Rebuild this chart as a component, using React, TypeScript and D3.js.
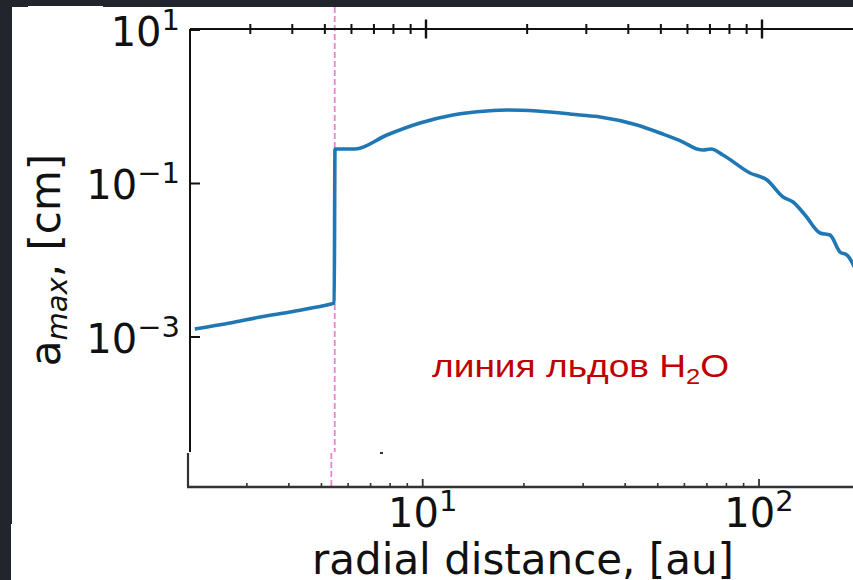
import React from "react";
import * as d3 from "d3";

// Radial distance (au) and maximum grain size (cm)
const radius = [2.05, 2.61, 3.21, 3.94, 4.74, 5.22, 5.33, 5.36, 6.15, 7.65, 9.6, 12.03, 15.19, 17.42, 21.4, 28.73, 32.96, 42.46, 49.7, 58.2, 64.06, 66.75, 70.5, 76.54, 92.1, 103.5, 115.5, 123.7, 134.3, 148.8, 159.4, 170.7, 179.1, 193.1];
const amax = [1.27e-3, 1.52e-3, 1.82e-3, 2.12e-3, 2.46e-3, 2.69e-3, 2.77e-3, 0.2815, 0.2815, 0.4285, 0.6142, 0.7807, 0.88, 0.907, 0.88, 0.7807, 0.735, 0.578, 0.455, 0.347, 0.2815, 0.273, 0.2815, 0.235, 0.137, 0.111, 0.0667, 0.0574, 0.0389, 0.02265, 0.02133, 0.0128, 0.0117, 0.00643];

const xMajor = [10, 100];
const xMajorLabels = ["1", "2"];
const xMinor = [3, 4, 5, 6, 7, 8, 9, 20, 30, 40, 50, 60, 70, 80, 90];
const yMajor = [10, 0.1, 0.001];
const yMajorLabels = ["1", "−1", "−3"];
const iceLine = 5.35;

const W = 853;
const H = 580;

export default function App() {
  const x = d3.scaleLog().domain([10, 100]).range([426, 762]);
  const xb = d3.scaleLog().domain([10, 100]).range([422.7, 759]);
  const y = d3.scaleLog().domain([1e-3, 10]).range([337, 30]);
  const pts = radius.map((r, i) => [r, amax[i]] as [number, number]);
  const line = d3
    .line<[number, number]>()
    .x((d) => x(d[0]))
    .y((d) => y(d[1]))
    .curve(d3.curveMonotoneX);

  const axTop = 29;
  const spineX = 190;
  const spineBottom = 452;
  const axBot = 487;
  const font = "DejaVu Sans, sans-serif";

  return (
    <svg
      width={W}
      height={H}
      style={{ position: "absolute", left: 0, top: 0 }}
      xmlns="http://www.w3.org/2000/svg"
    >
      <rect x={0} y={0} width={W} height={H} fill="#ffffff" />
      {/* dark slide background edges */}
      <rect x={0} y={0} width={W} height={7} fill="#23252d" />
      <rect x={28} y={6} width={75} height={1} fill="#ffffff" />
      <rect x={0} y={0} width={12} height={524} fill="#23252d" />
      <rect x={0} y={524} width={11} height={H - 524} fill="#23252d" />

      <defs>
        <clipPath id="plotclip">
          <rect x={spineX} y={axTop} width={W - spineX} height={spineBottom - axTop} />
        </clipPath>
      </defs>

      {/* ice line */}
      <line x1={x(iceLine)} x2={x(iceLine)} y1={7} y2={spineBottom} stroke="#e985cf" strokeWidth={1.8} strokeDasharray="6,3" />
      <line x1={xb(iceLine)} x2={xb(iceLine)} y1={spineBottom + 1} y2={axBot} stroke="#e985cf" strokeWidth={1.8} strokeDasharray="6,3" />

      {/* data */}
      <path d={line(pts) || ""} fill="none" stroke="#1f77b4" strokeWidth={3.6} strokeLinejoin="round" clipPath="url(#plotclip)" />

      {/* top axis */}
      <line x1={spineX} x2={W} y1={axTop} y2={axTop} stroke="#111" strokeWidth={2} />
      {xMinor.map((v) => (
        <line key={"tm" + v} x1={x(v)} x2={x(v)} y1={axTop - 5} y2={axTop + 5} stroke="#111" strokeWidth={2} />
      ))}
      {xMajor.map((v) => (
        <line key={"tM" + v} x1={x(v)} x2={x(v)} y1={axTop - 9.5} y2={axTop + 9.5} stroke="#111" strokeWidth={2.4} />
      ))}

      {/* left spine */}
      <line x1={spineX} x2={spineX} y1={axTop} y2={spineBottom} stroke="#111" strokeWidth={2} />
      {yMajor.map((v, i) => (
        <g key={"y" + v}>
          <line x1={spineX} x2={spineX + 10} y1={y(v)} y2={y(v)} stroke="#111" strokeWidth={2} />
          <text x={180} y={y(v) + 15.5} textAnchor="end" fontFamily={font} fontSize={40} fill="#111">
            10<tspan fontSize={29} dy={-16}>{yMajorLabels[i]}</tspan>
          </text>
        </g>
      ))}

      {/* bottom axis piece */}
      <line x1={188} x2={188} y1={spineBottom + 1} y2={axBot} stroke="#333" strokeWidth={2.2} />
      <line x1={187} x2={W} y1={axBot} y2={axBot} stroke="#333" strokeWidth={2.4} />
      {xMinor.map((v) => (
        <line key={"bm" + v} x1={xb(v)} x2={xb(v)} y1={axBot - 4} y2={axBot} stroke="#333" strokeWidth={1.6} />
      ))}
      {xMajor.map((v, i) => (
        <g key={"bM" + v}>
          <line x1={xb(v)} x2={xb(v)} y1={axBot - 8} y2={axBot} stroke="#333" strokeWidth={1.8} />
          <text x={xb(v)} y={527} textAnchor="middle" fontFamily={font} fontSize={40} fill="#111">
            10<tspan fontSize={29} dy={-16}>{xMajorLabels[i]}</tspan>
          </text>
        </g>
      ))}
      <rect x={380} y={452} width={3} height={2} fill="#333" />

      {/* axis labels */}
      <text x={523} y={574} textAnchor="middle" fontFamily={font} fontSize={42} fill="#111">
        radial distance, [au]
      </text>
      <text transform="translate(60,260) rotate(-90)" textAnchor="middle" fontFamily={font} fontSize={42} fill="#111">
        a<tspan fontSize={29} fontStyle="italic" dy={7}>max</tspan><tspan dy={-7}>, [cm]</tspan>
      </text>

      {/* annotation */}
      <text transform="translate(432,377) scale(1.16,1)" fontFamily="Liberation Sans, Arial, sans-serif" fontSize={32} fill="#c00000">
        линия льдов H<tspan fontSize={22} dy={7}>2</tspan><tspan dy={-7}>O</tspan>
      </text>
    </svg>
  );
}
